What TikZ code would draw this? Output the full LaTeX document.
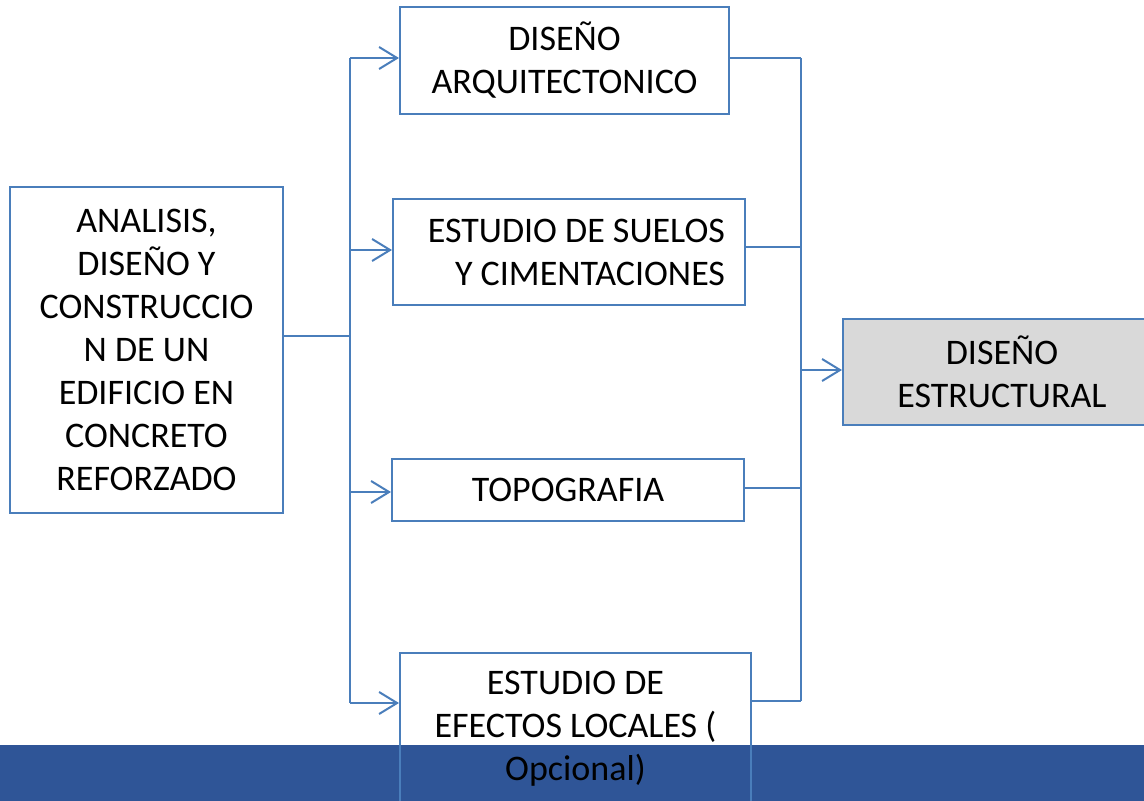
\documentclass[tikz,border=0pt]{standalone}
\usepackage{fontspec}
\setmainfont{Carlito}
\usetikzlibrary{arrows.meta}
\definecolor{ln}{HTML}{4A7EBB}
\definecolor{bar}{HTML}{2F5597}
\definecolor{gr}{HTML}{D9D9D9}
\begin{document}
\begin{tikzpicture}[x=1pt,y=-1pt,
  box/.style={draw=ln,line width=2pt,inner sep=0pt,align=center,font=\fontsize{36}{43}\selectfont},
  con/.style={draw=ln,line width=2pt},
  arr/.style={con,-{Straight Barb[length=18pt,width=22pt,line width=2pt]}}]
\clip (0,0) rectangle (1144,801);
\fill[white] (0,0) rectangle (1144,801);
\fill[bar] (0,745) rectangle (1144,801);
% boxes
\node[box,minimum width=273pt,minimum height=326pt] (src) at (146.5,350) {ANALISIS,\\DISEÑO Y\\CONSTRUCCIO\\N DE UN\\EDIFICIO EN\\CONCRETO\\REFORZADO};
\node[box,minimum width=329pt,minimum height=107pt] (b1) at (564.5,60) {DISEÑO\\ARQUITECTONICO};
\node[box,minimum width=352pt,minimum height=106pt,text width=312pt,inner xsep=20pt,align=flush right] (b2) at (569,252) {ESTUDIO DE SUELOS\\Y CIMENTACIONES};
\node[box,minimum width=352pt,minimum height=62pt] (b3) at (568,490) {TOPOGRAFIA};
\node[box,minimum width=351pt,minimum height=152pt] (b4) at (575.5,729) {ESTUDIO DE\\EFECTOS LOCALES (\\Opcional)};
\node[box,fill=gr,minimum width=318pt,minimum height=106pt] (b5) at (1002,372) {DISEÑO\\ESTRUCTURAL};
% left trunk
\coordinate (L) at (350,336);
\coordinate (lt1) at (350,58);
\coordinate (lt2) at (350,250);
\coordinate (lt3) at (350,492);
\coordinate (lt4) at (350,703);
\draw[con] (src.east|-L) -- (L);
\draw[con] (lt1) -- (lt4);
\draw[arr] (lt1) -- (lt1-|b1.west);
\draw[arr] (lt2) -- (lt2-|b2.west);
\draw[arr] (lt3) -- (lt3-|b3.west);
\draw[arr] (lt4) -- (lt4-|b4.west);
% right trunk
\coordinate (rt1) at (801,58);
\coordinate (rt2) at (801,247);
\coordinate (rt3) at (801,488);
\coordinate (rt4) at (801,701);
\coordinate (R) at (801,370);
\draw[con] (rt1) -- (rt4);
\draw[con] (rt1-|b1.east) -- (rt1);
\draw[con] (rt2-|b2.east) -- (rt2);
\draw[con] (rt3-|b3.east) -- (rt3);
\draw[con] (rt4-|b4.east) -- (rt4);
\draw[arr] (R) -- (R-|b5.west);
\end{tikzpicture}
\end{document}
